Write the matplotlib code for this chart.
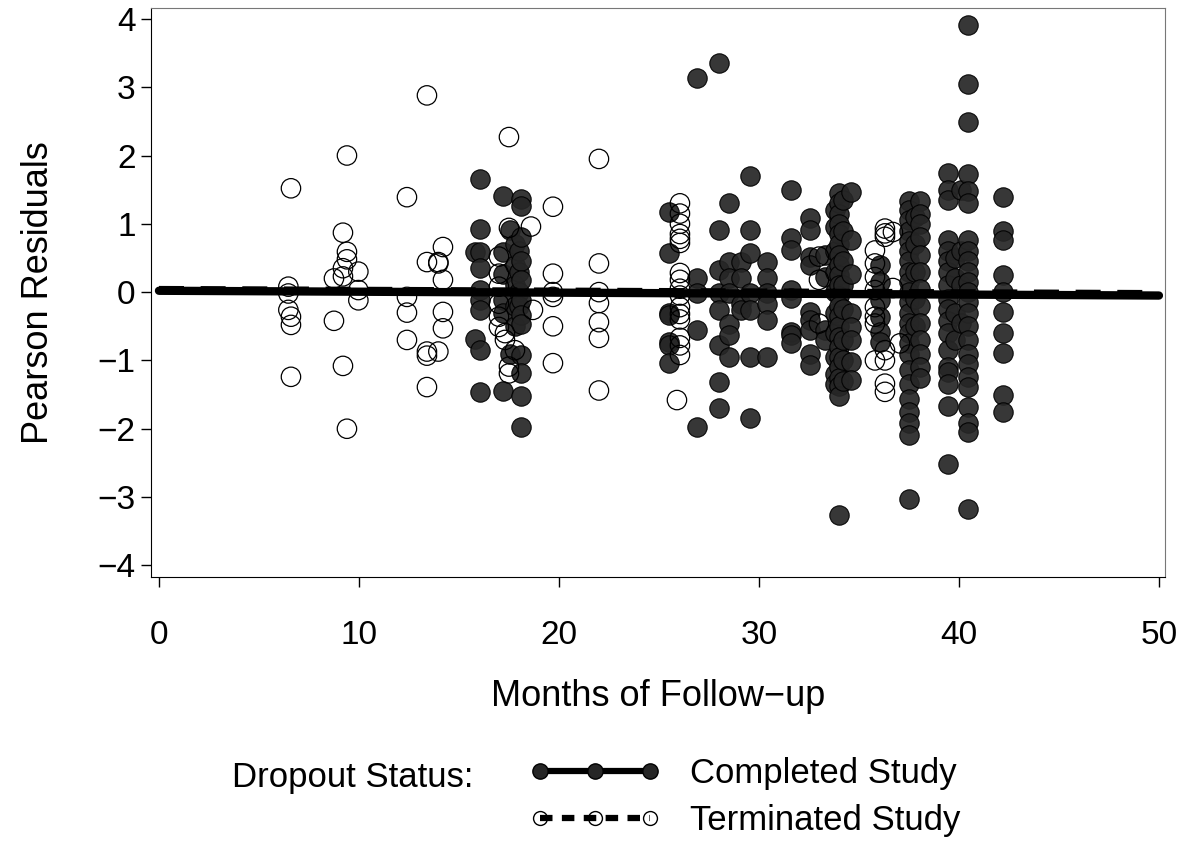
import matplotlib
matplotlib.use("Agg")
import matplotlib.pyplot as plt
from matplotlib.lines import Line2D

plt.rcParams['font.family'] = ['Liberation Sans', 'DejaVu Sans']

# ---------------- data ----------------
# Completed study (filled circles)
comp_months = (
    [15.8] * 2 + [16.05] * 9 + [17.2] * 6 + [17.55] * 2 + [17.8] * 5 + [18.0] * 4 + [18.1] * 12 +
    [25.5] * 7 + [26.9] * 5 + [28.0] * 8 + [28.5] * 7 + [29.1] * 4 + [29.55] * 7 + [30.4] * 6 +
    [31.6] * 8 + [32.55] * 9 + [33.3] * 4 + [33.8] * 10 + [34.0] * 22 + [34.2] * 8 + [34.6] * 8 +
    [36.05] * 6 + [37.5] * 23 + [37.8] * 5 + [38.05] * 13 + [39.45] * 18 + [39.8] * 4 +
    [40.1] * 4 + [40.45] * 24 + [42.2] * 10
)
comp_resid = (
    [0.59, -0.68] +
    [1.65, 0.93, 0.59, 0.35, 0.03, -0.12, -0.26, -0.85, -1.46] +
    [1.40, 0.59, 0.27, -0.12, -0.30, -1.45] +
    [0.91, -0.90] +
    [0.70, 0.40, 0.10, -0.20, -0.50] +
    [0.60, 0.30, 0.00, -0.20] +
    [1.37, 1.26, 0.81, 0.45, 0.18, -0.12, -0.33, -0.46, -0.92, -1.19, -1.52, -1.97] +
    [1.18, 0.57, -0.30, -0.34, -0.73, -0.77, -1.04] +
    [3.13, 0.20, -0.02, -0.56, -1.97] +
    [3.36, 0.91, 0.32, -0.02, -0.26, -0.78, -1.31, -1.70] +
    [1.30, 0.44, 0.20, -0.02, -0.46, -0.63, -0.95] +
    [0.44, 0.20, -0.17, -0.26] +
    [1.70, 0.91, 0.57, -0.02, -0.26, -0.95, -1.85] +
    [0.44, 0.20, -0.02, -0.17, -0.41, -0.95] +
    [1.49, 0.79, 0.61, 0.03, -0.09, -0.58, -0.63, -0.75] +
    [1.08, 0.91, 0.52, 0.40, -0.29, -0.41, -0.56, -0.90, -1.07] +
    [0.54, 0.22, -0.56, -0.70] +
    [1.20, 0.95, 0.60, 0.30, 0.00, -0.30, -0.60, -0.95, -1.20, -1.35] +
    [1.45, 1.30, 1.15, 1.00, 0.85, 0.70, 0.55, 0.40, 0.25, 0.10, -0.05, -0.20, -0.35, -0.50,
     -0.65, -0.80, -0.95, -1.10, -1.25, -1.38, -1.52, -3.27] +
    [1.35, 0.90, 0.45, 0.10, -0.25, -0.70, -1.00, -1.30] +
    [1.47, 0.76, 0.27, -0.31, -0.51, -0.70, -1.02, -1.29] +
    [0.40, 0.15, -0.12, -0.36, -0.58, -0.73] +
    [1.33, 1.20, 1.05, 0.90, 0.75, 0.60, 0.45, 0.30, 0.15, 0.00, -0.15, -0.30, -0.45, -0.60,
     -0.75, -0.90, -1.14, -1.34, -1.56, -1.75, -1.92, -2.09, -3.03] +
    [1.10, 0.70, 0.30, -0.10, -0.50] +
    [1.33, 1.15, 1.00, 0.80, 0.55, 0.30, 0.05, -0.20, -0.45, -0.70, -0.90, -1.10, -1.26] +
    [1.74, 1.49, 1.35, 0.76, 0.60, 0.45, 0.30, 0.10, -0.10, -0.25, -0.43, -0.60, -0.85, -1.10,
     -1.17, -1.34, -1.67, -2.51] +
    [0.50, 0.20, -0.30, -0.70] +
    [1.49, 0.60, 0.10, -0.45] +
    [3.91, 3.05, 2.49, 1.73, 1.48, 1.30, 0.76, 0.60, 0.45, 0.30, 0.15, 0.00, -0.15, -0.30,
     -0.50, -0.70, -0.90, -1.05, -1.24, -1.39, -1.68, -1.92, -2.05, -3.17] +
    [1.39, 0.89, 0.76, 0.25, 0.00, -0.29, -0.60, -0.89, -1.51, -1.76]
)

# Terminated study (open circles)
term_months = (
    [6.47] * 3 + [6.6] * 4 + [8.75] * 2 + [9.2] * 4 + [9.4] * 4 + [9.97] * 3 + [12.4] * 4 +
    [13.4] * 5 + [13.97] * 3 + [14.2] * 4 + [17.0] * 6 + [17.3] * 2 + [17.5] * 4 + [17.8] +
    [18.6] + [18.7] + [19.7] * 6 + [22.0] * 7 + [26.05] * 16 + [25.9] + [33.0] * 3 +
    [35.8] * 8 + [36.3] * 7 + [36.7] * 2 + [37.05]
)
term_resid = (
    [0.08, -0.02, -0.26] +
    [1.52, -0.36, -0.48, -1.24] +
    [0.20, -0.42] +
    [0.87, 0.35, 0.23, -1.08] +
    [2.00, 0.59, 0.48, -2.00] +
    [0.30, 0.03, -0.12] +
    [1.39, -0.07, -0.30, -0.70] +
    [2.88, 0.44, -0.87, -0.93, -1.39] +
    [0.44, 0.42, -0.87] +
    [0.66, 0.18, -0.29, -0.53] +
    [0.52, 0.27, 0.08, -0.17, -0.36, -0.51] +
    [-0.60, -0.70] +
    [2.27, 0.94, -1.09, -1.19] +
    [-0.85] +
    [0.96] +
    [-0.26] +
    [1.25, 0.27, 0.00, -0.07, -0.50, -1.04] +
    [1.95, 0.42, 0.00, -0.16, -0.44, -0.67, -1.44] +
    [1.30, 1.15, 1.00, 0.85, 0.78, 0.72, 0.28, 0.18, 0.05, -0.05, -0.22, -0.32, -0.40,
     -0.67, -0.78, -0.92] +
    [-1.58] +
    [0.52, 0.18, -0.46] +
    [0.61, 0.42, 0.22, 0.03, -0.22, -0.36, -0.46, -1.00] +
    [0.93, 0.81, 0.86, -0.85, -1.00, -1.34, -1.46] +
    [0.88, 0.06] +
    [-0.75]
)

# fitted lines
fit_months = [0, 50]
fit_completed = [0.02, -0.05]
fit_terminated = [0.03, -0.03]

x_ticks = [0, 10, 20, 30, 40, 50]
y_ticks = [-4, -3, -2, -1, 0, 1, 2, 3, 4]
x_label = "Months of Follow\u2212up"
y_label = "Pearson Residuals"
legend_title = "Dropout Status:"
legend_labels = ["Completed Study", "Terminated Study"]

# ---------------- figure ----------------
fig = plt.figure(figsize=(11.84, 8.46), dpi=100)
ax = fig.add_axes([0.1275, 0.318, 0.8564, 0.6726])

fill_col = '#262626'
ax.scatter(comp_months, comp_resid, s=195, facecolor=fill_col, edgecolor='black',
           linewidths=0.8, alpha=0.92, zorder=2)
ax.scatter(term_months, term_resid, s=195, facecolor='none', edgecolor='black',
           linewidths=0.9, zorder=3)

ax.plot(fit_months, fit_terminated, color='black', lw=6, ls=(0, (3, 2)), zorder=4)
ax.plot(fit_months, fit_completed, color='black', lw=6, ls='-', solid_capstyle='round', zorder=5)

ax.set_xlim(-0.4, 50.3)
ax.set_ylim(-4.17, 4.16)
ax.set_xticks(x_ticks)
ax.set_yticks(y_ticks)
ax.set_yticklabels([("\u2212" + str(abs(v))) if v < 0 else str(v) for v in y_ticks])
ax.tick_params(axis='both', direction='out', length=7, width=1, labelsize=24, colors='black')
ax.tick_params(axis='x', pad=24)
ax.tick_params(axis='y', pad=4)
for side in ['top', 'right']:
    ax.spines[side].set_color('#777777')
for side in ['left', 'bottom']:
    ax.spines[side].set_color('black')

ax.set_xlabel(x_label, fontsize=26, labelpad=20)
ax.set_ylabel(y_label, fontsize=26, labelpad=30)

# legend
h_comp = Line2D([], [], color='black', lw=4.5, ls='-', marker='o', markersize=11,
                markerfacecolor=fill_col, markeredgecolor='black')
h_term = Line2D([], [], color='black', lw=4.5, ls=(0, (2, 1.5)), marker='o', markersize=10,
                markerfacecolor='none', markeredgecolor='black')
fig.legend([h_comp, h_term], legend_labels, loc='center left',
           bbox_to_anchor=(530 / 1184, 1 - 797 / 846), frameon=False, fontsize=25,
           numpoints=3, handlelength=3.75, handletextpad=0.85, labelspacing=0.42,
           borderpad=0, borderaxespad=0)
fig.text(232 / 1184, 1 - 777 / 846, legend_title, fontsize=25, ha='left', va='center')

fig.savefig('out.png', dpi=100)
